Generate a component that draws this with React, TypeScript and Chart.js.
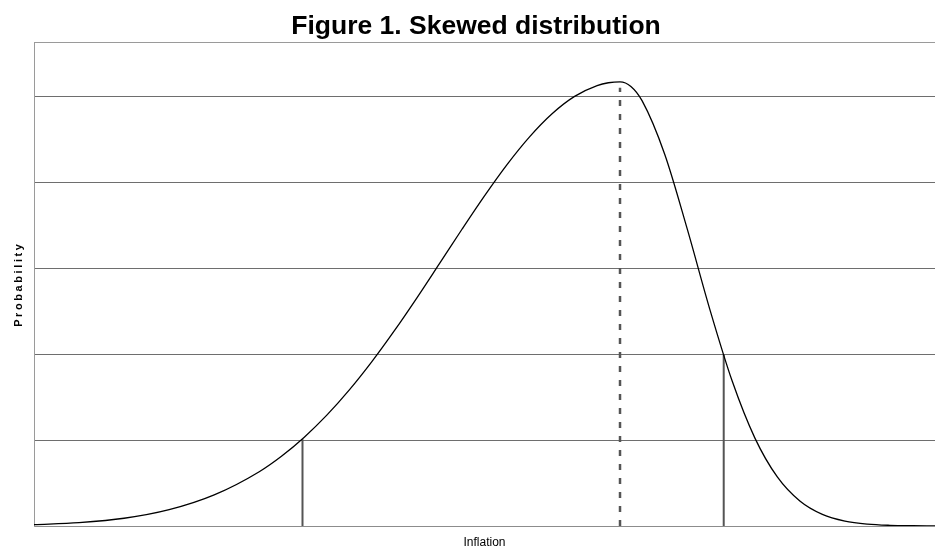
import { useEffect, useRef } from "react";
import { Chart, registerables } from "chart.js";

Chart.register(...registerables);

// Inflation (x, arbitrary units 0–100) and probability density (y)
const inflation = [
  0, 5, 10, 15, 20, 25, 27.5, 30, 32.5, 35, 37.5, 40, 42.5, 45, 47.5, 50, 52.5,
  55, 57.5, 60, 62.5, 63.75, 65.04, 66.25, 67.5, 70, 72.5, 75, 77.5, 80, 82.5,
  85, 87.5, 90, 92.5, 95, 97.5, 100,
];
const probability = [
  0.015, 0.04, 0.09, 0.19, 0.362, 0.632, 0.815, 1.034, 1.29, 1.584, 1.913,
  2.273, 2.656, 3.054, 3.454, 3.843, 4.207, 4.53, 4.799, 5.001, 5.126, 5.159,
  5.17, 5.116, 4.948, 4.328, 3.458, 2.525, 1.684, 1.026, 0.571, 0.291, 0.135,
  0.057, 0.022, 0.008, 0.003, 0.001,
];

// Horizontal grid levels (top one is the plot-area border)
const gridLevels = [0, 1, 2, 3, 4, 5, 5.63];

// Marker lines: lower bound, mode (dashed), upper bound
const markerX = [29.8, 65.04, 76.55];
const markerTop = [1.01, 5.1, 2.0];

const TITLE = "Figure 1. Skewed distribution";
const X_TITLE = "Inflation";
const Y_TITLE = "Probability";

const FONT = "'Liberation Sans', Arial, Helvetica, sans-serif";

export default function App() {
  const ref = useRef<HTMLCanvasElement | null>(null);

  useEffect(() => {
    if (!ref.current) return;
    const curve = inflation.map((x, i) => ({ x, y: probability[i] }));
    const markerSet = (i: number, dashed: boolean) => ({
      data: [
        { x: markerX[i], y: 0 },
        { x: markerX[i], y: markerTop[i] },
      ],
      borderColor: "#555555",
      borderWidth: dashed ? 2.5 : 2,
      borderDash: dashed ? [6, 8] : [],
      pointRadius: 0,
      showLine: true,
      tension: 0,
      order: 2,
    });

    const chart = new Chart(ref.current, {
      type: "scatter",
      data: {
        datasets: [
          {
            data: curve,
            borderColor: "#000000",
            borderWidth: 1.3,
            pointRadius: 0,
            showLine: true,
            cubicInterpolationMode: "monotone",
            order: 0,
          },
          markerSet(0, false),
          markerSet(1, true),
          markerSet(2, false),
        ],
      },
      options: {
        animation: false,
        responsive: false,
        devicePixelRatio: 1,
        layout: { padding: { left: 17, right: 0, top: 0, bottom: 0 } },
        plugins: {
          legend: { display: false },
          tooltip: { enabled: false },
          title: {
            display: true,
            text: TITLE,
            color: "#000000",
            font: { family: FONT, size: 26.5, weight: "bold", lineHeight: 1.2 },
            padding: { top: 10.5, bottom: 0 },
          },
        },
        scales: {
          x: {
            type: "linear",
            min: 0,
            max: 100,
            grid: { display: false },
            border: { display: false },
            ticks: { display: false },
            title: {
              display: true,
              text: X_TITLE,
              color: "#000000",
              font: { family: FONT, size: 12 },
              padding: { top: 0, bottom: 2 },
            },
            afterFit: (s: any) => {
              s.height = 26;
            },
          },
          y: {
            type: "linear",
            min: 0,
            max: 5.63,
            afterBuildTicks: (s: any) => {
              s.ticks = gridLevels.map((v) => ({ value: v }));
            },
            grid: {
              drawTicks: false,
              tickLength: 0,
              lineWidth: 1,
              color: (ctx: any) => {
                const v = ctx.tick ? ctx.tick.value : 0;
                if (v === 0) return "#8c8c8c";
                if (v > 5.5) return "#9a9a9a";
                return "#6e6e6e";
              },
            },
            border: { display: true, color: "#9a9a9a", width: 1 },
            ticks: { display: false },
            title: {
              display: true,
              text: Y_TITLE,
              color: "#000000",
              font: { family: FONT, size: 11, weight: "bold" },
              padding: { top: -5, bottom: 0 },
            },
            afterFit: (s: any) => {
              s.width = 17;
              if (!s.__spaced) {
                s.__spaced = true;
                const orig = s.drawTitle;
                s.drawTitle = function (...args: any[]) {
                  const c = this.ctx;
                  c.save();
                  (c as any).letterSpacing = "2.6px";
                  orig.apply(this, args);
                  c.restore();
                };
              }
            },
          },
        },
      },
    });
    return () => chart.destroy();
  }, []);

  return (
    <div style={{ position: "fixed", left: 0, top: 0, width: 935, height: 552, background: "#ffffff" }}>
      <canvas ref={ref} width={935} height={552} style={{ display: "block" }} />
    </div>
  );
}
